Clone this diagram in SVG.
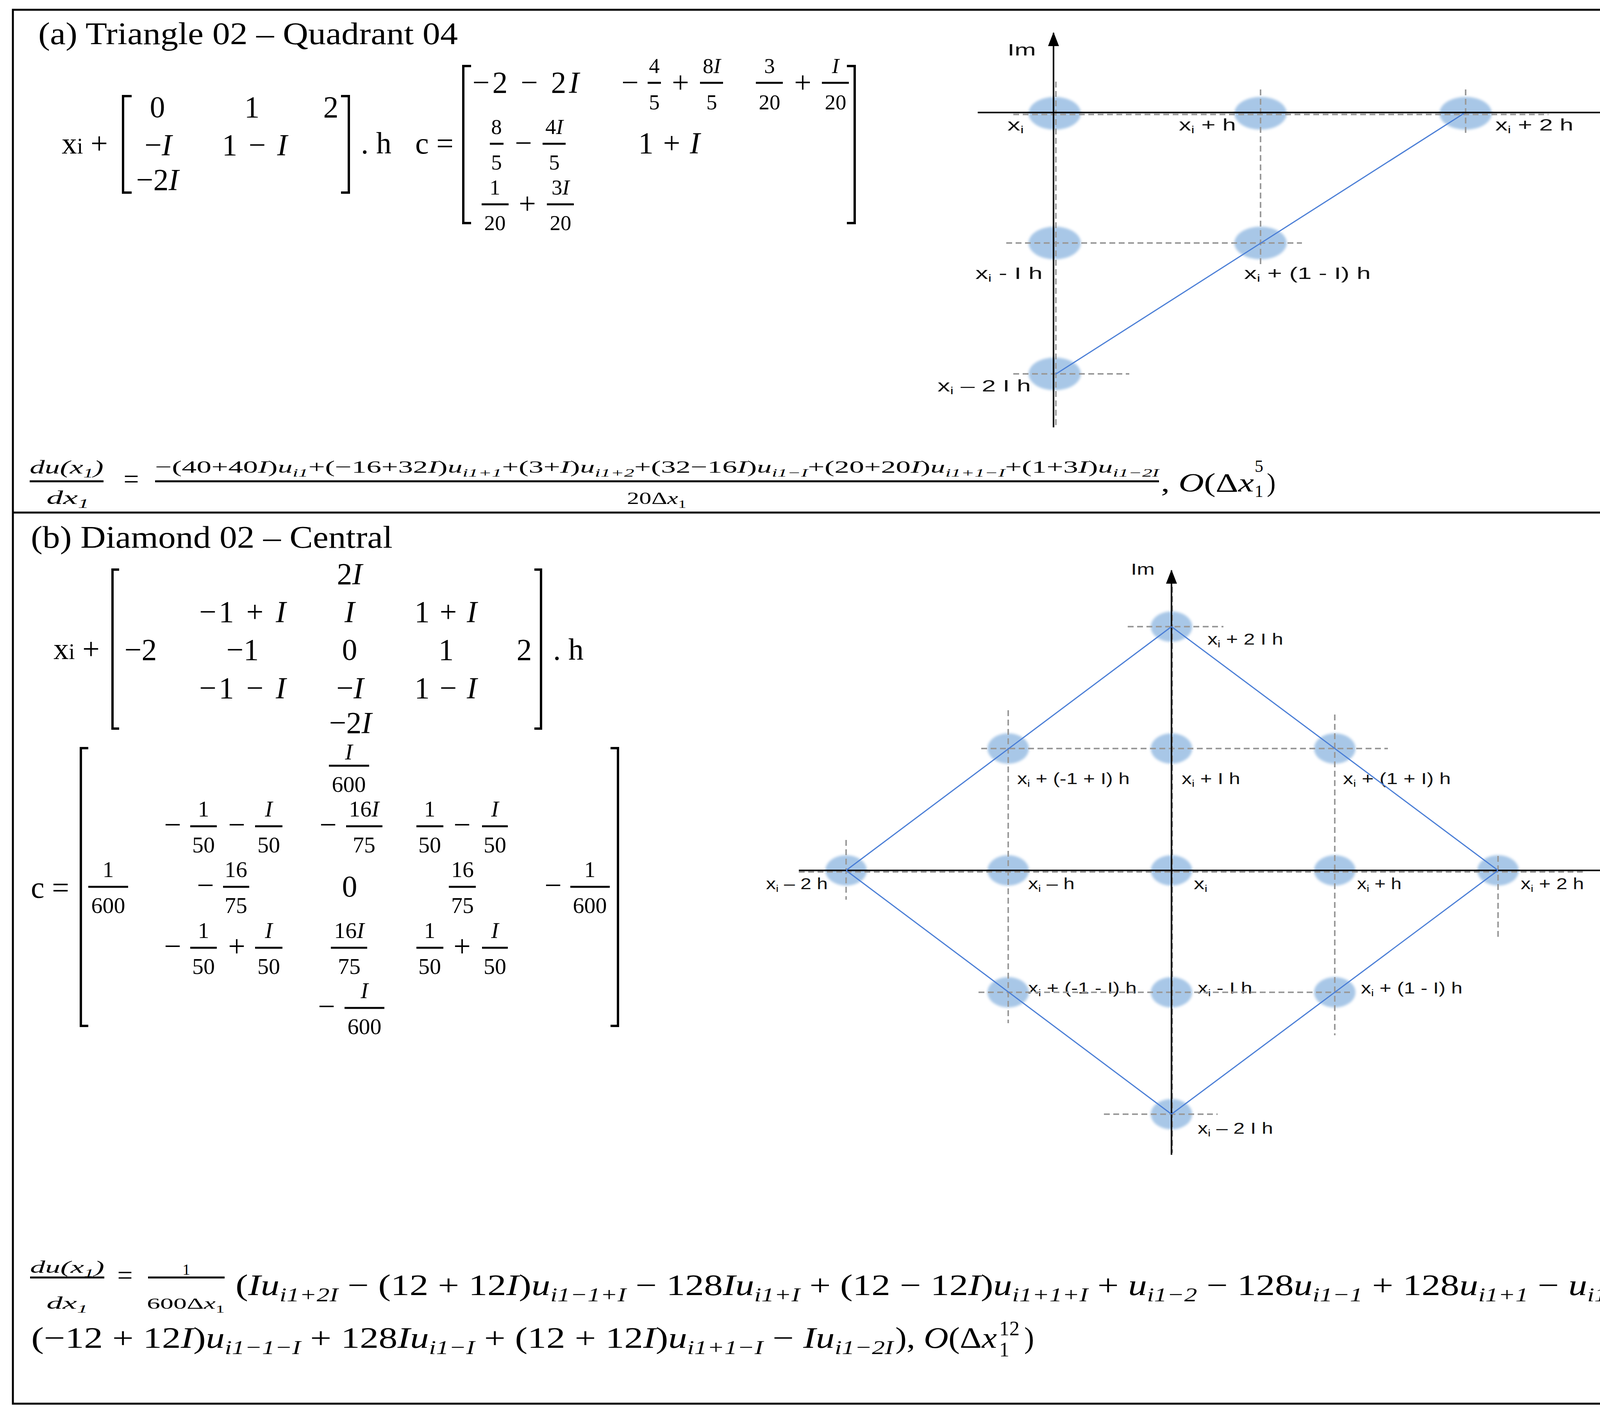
<svg xmlns="http://www.w3.org/2000/svg" width="4377" height="3622" viewBox="0 0 4377 3622">
<defs>
<style>
.t{font-family:"Liberation Serif","Times New Roman",serif;fill:#000}
.m{font-size:78px}
.c{text-anchor:middle}
.fa{font-size:55px}
.fb{font-size:58px}
.it{font-style:italic}
.s{font-size:68%}
.bar{stroke:#000;stroke-width:5}
.br{fill:none;stroke:#000;stroke-width:6}
.bd{fill:none;stroke:#000;stroke-width:5}
.lab{font-family:"Liberation Sans",Arial,sans-serif;fill:#111}
.la{font-size:42px}
.lb{font-size:40px}
.si{font-size:62%}
.dash{fill:none;stroke:#9a9a9a;stroke-width:4;stroke-dasharray:15 9}
.ax{fill:none;stroke:#000;stroke-width:4}
.edge{fill:none;stroke:#4a7ed6;stroke-width:3}
.node{fill:#a8c7e7;filter:url(#soft)}
</style>
<filter id="soft" x="-30%" y="-30%" width="160%" height="160%"><feGaussianBlur stdDeviation="3"/></filter>
<marker id="arr" viewBox="0 0 36 28" markerWidth="36" markerHeight="28" refX="34" refY="14" orient="auto" markerUnits="userSpaceOnUse"><path d="M0,0 L36,14 L0,28 Z" fill="#000"/></marker>
</defs>
<rect x="0" y="0" width="4377" height="3622" fill="#fff"/>
<g id="frame">
<rect class="bd" x="33" y="25" width="4308" height="3568"/>
<line class="bd" x1="33" y1="1312" x2="4341" y2="1312"/>
</g>

<!-- ===== Panel (a) ===== -->
<g id="panel-a-math" class="t">
<text class="t" x="98" y="113" font-size="80" textLength="1074" lengthAdjust="spacingAndGlyphs">(a) Triangle 02 – Quadrant 04</text>
<text class="t m" x="158" y="393">x<tspan font-size="56">i</tspan> +</text>
<path class="br" d="M337,246 H315 V493 H337"/>
<path class="br" d="M873,246 H893 V493 H873"/>
<text class="t m c" x="403" y="300">0</text>
<text class="t m c" x="645" y="300">1</text>
<text class="t m c" x="847" y="300">2</text>
<text class="t m c" x="405" y="397">−<tspan class="it">I</tspan></text>
<text class="t m c" x="652" y="397" textLength="167" lengthAdjust="spacing">1 − <tspan class="it">I</tspan></text>
<text class="t m c" x="403" y="486">−2<tspan class="it">I</tspan></text>
<text class="t m" x="924" y="393">. h</text>
<text class="t m" x="1063" y="393">c =</text>
<path class="br" d="M1206,169 H1186 V571 H1206"/>
<path class="br" d="M2168,169 H2188 V571 H2168"/>
<text class="t m c" x="1346" y="237" textLength="273" lengthAdjust="spacing">−2 − 2<tspan class="it">I</tspan></text>
<text class="t m c" x="1613" y="237">−</text>
<text class="t fa c" x="1675" y="187">4</text><line class="bar" x1="1658" y1="212" x2="1692" y2="212"/><text class="t fa c" x="1675" y="280">5</text>
<text class="t m c" x="1742" y="237">+</text>
<text class="t fa c" x="1822" y="187">8<tspan class="it">I</tspan></text><line class="bar" x1="1792" y1="212" x2="1851" y2="212"/><text class="t fa c" x="1822" y="280">5</text>
<text class="t fa c" x="1970" y="187">3</text><line class="bar" x1="1935" y1="212" x2="2004" y2="212"/><text class="t fa c" x="1970" y="280">20</text>
<text class="t m c" x="2055" y="237">+</text>
<text class="t fa c" x="2139" y="187"><tspan class="it">I</tspan></text><line class="bar" x1="2104" y1="212" x2="2173" y2="212"/><text class="t fa c" x="2139" y="280">20</text>
<text class="t fa c" x="1271" y="343">8</text><line class="bar" x1="1254" y1="368" x2="1289" y2="368"/><text class="t fa c" x="1271" y="434">5</text>
<text class="t m c" x="1340" y="392">−</text>
<text class="t fa c" x="1419" y="343">4<tspan class="it">I</tspan></text><line class="bar" x1="1389" y1="368" x2="1448" y2="368"/><text class="t fa c" x="1419" y="434">5</text>
<text class="t m c" x="1713" y="392" textLength="158" lengthAdjust="spacing">1 + <tspan class="it">I</tspan></text>
<text class="t fa c" x="1267" y="498">1</text><line class="bar" x1="1233" y1="523" x2="1302" y2="523"/><text class="t fa c" x="1267" y="589">20</text>
<text class="t m c" x="1350" y="547">+</text>
<text class="t fa c" x="1435" y="498">3<tspan class="it">I</tspan></text><line class="bar" x1="1400" y1="523" x2="1469" y2="523"/><text class="t fa c" x="1435" y="589">20</text>
<!-- equation (a) -->
<text class="t it" x="76" y="1212" font-size="48" textLength="189" lengthAdjust="spacingAndGlyphs">du(x<tspan class="s" dy="10">1</tspan><tspan dy="-10">)</tspan></text>
<line class="bar" x1="76" y1="1232" x2="265" y2="1232"/>
<text class="t it" x="119" y="1290" font-size="48" textLength="109" lengthAdjust="spacingAndGlyphs">dx<tspan class="s" dy="10">1</tspan></text>
<text class="t c" x="336" y="1250" font-size="70">=</text>
<text class="t" x="397" y="1210" font-size="44" textLength="2570" lengthAdjust="spacingAndGlyphs">−(40+40<tspan class="it">I</tspan>)<tspan class="it">u</tspan><tspan class="s it" dy="10">i1</tspan><tspan dy="-10">+(−16+32</tspan><tspan class="it">I</tspan>)<tspan class="it">u</tspan><tspan class="s it" dy="10">i1+1</tspan><tspan dy="-10">+(3+</tspan><tspan class="it">I</tspan>)<tspan class="it">u</tspan><tspan class="s it" dy="10">i1+2</tspan><tspan dy="-10">+(32−16</tspan><tspan class="it">I</tspan>)<tspan class="it">u</tspan><tspan class="s it" dy="10">i1−I</tspan><tspan dy="-10">+(20+20</tspan><tspan class="it">I</tspan>)<tspan class="it">u</tspan><tspan class="s it" dy="10">i1+1−I</tspan><tspan dy="-10">+(1+3</tspan><tspan class="it">I</tspan>)<tspan class="it">u</tspan><tspan class="s it" dy="10">i1−2I</tspan></text>
<line class="bar" x1="397" y1="1232" x2="2967" y2="1232"/>
<text class="t" x="1605" y="1290" font-size="44" textLength="152" lengthAdjust="spacingAndGlyphs">20Δ<tspan class="it">x</tspan><tspan class="s" dy="10">1</tspan></text>
<text class="t" x="2972" y="1258" font-size="68" textLength="238" lengthAdjust="spacingAndGlyphs">, <tspan class="it">O</tspan>(Δ<tspan class="it">x</tspan></text>
<text class="t" x="3212" y="1208" font-size="44">5</text>
<text class="t" x="3212" y="1272" font-size="44">1</text>
<text class="t" x="3243" y="1258" font-size="68">)</text>
</g>

<g id="diagram-a">
<g id="a-node-xi"><ellipse class="node" cx="2700" cy="290" rx="67" ry="42"/><text class="lab la" x="2579" y="334" textLength="42" lengthAdjust="spacingAndGlyphs">x<tspan class="si" dy="7">i</tspan></text></g>
<g id="a-node-xi-h"><ellipse class="node" cx="3227" cy="290" rx="67" ry="42"/><text class="lab la" x="3018" y="334" textLength="146" lengthAdjust="spacingAndGlyphs">x<tspan class="si" dy="7">i</tspan><tspan dy="-7"> + h</tspan></text></g>
<g id="a-node-xi-2h"><ellipse class="node" cx="3752" cy="290" rx="67" ry="42"/><text class="lab la" x="3828" y="334" textLength="200" lengthAdjust="spacingAndGlyphs">x<tspan class="si" dy="7">i</tspan><tspan dy="-7"> + 2 h</tspan></text></g>
<g id="a-node-xi-Ih"><ellipse class="node" cx="2700" cy="622" rx="67" ry="42"/><text class="lab la" x="2497" y="714" textLength="172" lengthAdjust="spacingAndGlyphs">x<tspan class="si" dy="7">i</tspan><tspan dy="-7"> - I h</tspan></text></g>
<g id="a-node-xi-1-Ih"><ellipse class="node" cx="3227" cy="622" rx="67" ry="42"/><text class="lab la" x="3185" y="714" textLength="324" lengthAdjust="spacingAndGlyphs">x<tspan class="si" dy="7">i</tspan><tspan dy="-7"> + (1 - I) h</tspan></text></g>
<g id="a-node-xi-2Ih"><ellipse class="node" cx="2700" cy="957" rx="67" ry="42"/><text class="lab la" x="2400" y="1002" textLength="239" lengthAdjust="spacingAndGlyphs">x<tspan class="si" dy="7">i</tspan><tspan dy="-7"> – 2 I h</tspan></text></g>
<g id="a-grid">
<line class="dash" x1="2594" y1="293" x2="3964" y2="293"/>
<line class="dash" x1="2576" y1="622" x2="3333" y2="622"/>
<line class="dash" x1="2594" y1="957" x2="2891" y2="957"/>
<line class="dash" x1="2703" y1="209" x2="2703" y2="1091"/>
<line class="dash" x1="3227" y1="229" x2="3227" y2="685"/>
<line class="dash" x1="3752" y1="229" x2="3752" y2="344"/>
</g>
<g id="a-axes">
<line class="ax" x1="2697" y1="1094" x2="2697" y2="84" marker-end="url(#arr)"/>
<line class="ax" x1="2503" y1="288" x2="4164" y2="288" marker-end="url(#arr)"/>
<text class="lab la" x="2579" y="142" textLength="73" lengthAdjust="spacingAndGlyphs">Im</text>
<text class="lab la" x="4145" y="334" textLength="73" lengthAdjust="spacingAndGlyphs">Re</text>
</g>
<g id="a-connectors">
<line class="edge" x1="2702" y1="958" x2="3748" y2="290"/>
</g>
</g>

<!-- ===== Panel (b) ===== -->
<g id="panel-b-math" class="t">
<text class="t" x="79" y="1402" font-size="80" textLength="926" lengthAdjust="spacingAndGlyphs">(b) Diamond 02 – Central</text>
<text class="t m" x="137" y="1687">x<tspan font-size="56">i</tspan> +</text>
<path class="br" d="M305,1458 H288 V1865 H305"/>
<path class="br" d="M1368,1458 H1385 V1865 H1368"/>
<text class="t m c" x="895" y="1495">2<tspan class="it">I</tspan></text>
<text class="t m c" x="621" y="1592" textLength="222" lengthAdjust="spacing">−1 + <tspan class="it">I</tspan></text>
<text class="t m c" x="895" y="1592"><tspan class="it">I</tspan></text>
<text class="t m c" x="1141" y="1592" textLength="160" lengthAdjust="spacing">1 + <tspan class="it">I</tspan></text>
<text class="t m c" x="360" y="1689">−2</text>
<text class="t m c" x="621" y="1689">−1</text>
<text class="t m c" x="895" y="1689">0</text>
<text class="t m c" x="1142" y="1689">1</text>
<text class="t m c" x="1342" y="1689">2</text>
<text class="t m c" x="621" y="1787" textLength="222" lengthAdjust="spacing">−1 − <tspan class="it">I</tspan></text>
<text class="t m c" x="896" y="1787">−<tspan class="it">I</tspan></text>
<text class="t m c" x="1141" y="1787" textLength="160" lengthAdjust="spacing">1 − <tspan class="it">I</tspan></text>
<text class="t m c" x="897" y="1876">−2<tspan class="it">I</tspan></text>
<text class="t m" x="1416" y="1689">. h</text>

<text class="t m" x="79" y="2298">c =</text>
<path class="br" d="M226,1915 H207 V2626 H226"/>
<path class="br" d="M1563,1915 H1582 V2626 H1563"/>
<!-- row 1 -->
<text class="t fb c" x="893" y="1944"><tspan class="it">I</tspan></text><line class="bar" x1="842" y1="1960" x2="945" y2="1960"/><text class="t fb c" x="893" y="2027">600</text>
<!-- row 2 -->
<text class="t m c" x="442" y="2137">−</text>
<text class="t fb c" x="521" y="2090">1</text><line class="bar" x1="487" y1="2115" x2="555" y2="2115"/><text class="t fb c" x="521" y="2182">50</text>
<text class="t m c" x="606" y="2137">−</text>
<text class="t fb c" x="688" y="2090"><tspan class="it">I</tspan></text><line class="bar" x1="653" y1="2115" x2="723" y2="2115"/><text class="t fb c" x="688" y="2182">50</text>
<text class="t m c" x="840" y="2137">−</text>
<text class="t fb c" x="932" y="2090">16<tspan class="it">I</tspan></text><line class="bar" x1="886" y1="2115" x2="979" y2="2115"/><text class="t fb c" x="932" y="2182">75</text>
<text class="t fb c" x="1100" y="2090">1</text><line class="bar" x1="1066" y1="2115" x2="1135" y2="2115"/><text class="t fb c" x="1100" y="2182">50</text>
<text class="t m c" x="1183" y="2137">−</text>
<text class="t fb c" x="1267" y="2090"><tspan class="it">I</tspan></text><line class="bar" x1="1234" y1="2115" x2="1300" y2="2115"/><text class="t fb c" x="1267" y="2182">50</text>
<!-- row 3 -->
<text class="t fb c" x="277" y="2245">1</text><line class="bar" x1="226" y1="2270" x2="328" y2="2270"/><text class="t fb c" x="277" y="2337">600</text>
<text class="t m c" x="526" y="2292">−</text>
<text class="t fb c" x="604" y="2245">16</text><line class="bar" x1="571" y1="2270" x2="638" y2="2270"/><text class="t fb c" x="604" y="2337">75</text>
<text class="t m c" x="895" y="2295">0</text>
<text class="t fb c" x="1184" y="2245">16</text><line class="bar" x1="1149" y1="2270" x2="1218" y2="2270"/><text class="t fb c" x="1184" y="2337">75</text>
<text class="t m c" x="1416" y="2292">−</text>
<text class="t fb c" x="1510" y="2245">1</text><line class="bar" x1="1460" y1="2270" x2="1561" y2="2270"/><text class="t fb c" x="1510" y="2337">600</text>
<!-- row 4 -->
<text class="t m c" x="442" y="2448">−</text>
<text class="t fb c" x="521" y="2401">1</text><line class="bar" x1="487" y1="2426" x2="555" y2="2426"/><text class="t fb c" x="521" y="2493">50</text>
<text class="t m c" x="606" y="2448">+</text>
<text class="t fb c" x="688" y="2401"><tspan class="it">I</tspan></text><line class="bar" x1="653" y1="2426" x2="723" y2="2426"/><text class="t fb c" x="688" y="2493">50</text>
<text class="t fb c" x="894" y="2401">16<tspan class="it">I</tspan></text><line class="bar" x1="847" y1="2426" x2="940" y2="2426"/><text class="t fb c" x="894" y="2493">75</text>
<text class="t fb c" x="1100" y="2401">1</text><line class="bar" x1="1066" y1="2426" x2="1135" y2="2426"/><text class="t fb c" x="1100" y="2493">50</text>
<text class="t m c" x="1183" y="2448">+</text>
<text class="t fb c" x="1267" y="2401"><tspan class="it">I</tspan></text><line class="bar" x1="1234" y1="2426" x2="1300" y2="2426"/><text class="t fb c" x="1267" y="2493">50</text>
<!-- row 5 -->
<text class="t m c" x="836" y="2602">−</text>
<text class="t fb c" x="933" y="2555"><tspan class="it">I</tspan></text><line class="bar" x1="882" y1="2580" x2="984" y2="2580"/><text class="t fb c" x="933" y="2647">600</text>

<!-- equation (b) -->
<text class="t it" x="77" y="3258" font-size="44" textLength="190" lengthAdjust="spacingAndGlyphs">du(x<tspan class="s" dy="10">1</tspan><tspan dy="-10">)</tspan></text>
<line class="bar" x1="77" y1="3270" x2="267" y2="3270"/>
<text class="t it" x="119" y="3350" font-size="44" textLength="106" lengthAdjust="spacingAndGlyphs">dx<tspan class="s" dy="10">1</tspan></text>
<text class="t c" x="320" y="3288" font-size="70">=</text>
<text class="t c" x="477" y="3263" font-size="40">1</text>
<line class="bar" x1="379" y1="3270" x2="575" y2="3270"/>
<text class="t" x="376" y="3350" font-size="40" textLength="199" lengthAdjust="spacingAndGlyphs">600Δ<tspan class="it">x</tspan><tspan class="s" dy="10">1</tspan></text>
<text class="t" x="603" y="3315" font-size="76" textLength="3667" lengthAdjust="spacingAndGlyphs">(<tspan class="it">Iu</tspan><tspan class="s it" dy="16">i1+2I</tspan><tspan dy="-16"> − (12 + 12</tspan><tspan class="it">I</tspan>)<tspan class="it">u</tspan><tspan class="s it" dy="16">i1−1+I</tspan><tspan dy="-16"> − 128</tspan><tspan class="it">Iu</tspan><tspan class="s it" dy="16">i1+I</tspan><tspan dy="-16"> + (12 − 12</tspan><tspan class="it">I</tspan>)<tspan class="it">u</tspan><tspan class="s it" dy="16">i1+1+I</tspan><tspan dy="-16"> + </tspan><tspan class="it">u</tspan><tspan class="s it" dy="16">i1−2</tspan><tspan dy="-16"> − 128</tspan><tspan class="it">u</tspan><tspan class="s it" dy="16">i1−1</tspan><tspan dy="-16"> + 128</tspan><tspan class="it">u</tspan><tspan class="s it" dy="16">i1+1</tspan><tspan dy="-16"> − </tspan><tspan class="it">u</tspan><tspan class="s it" dy="16">i1+2</tspan><tspan dy="-16"> +</tspan></text>
<text class="t" x="80" y="3450" font-size="76" textLength="2207" lengthAdjust="spacingAndGlyphs">(−12 + 12<tspan class="it">I</tspan>)<tspan class="it">u</tspan><tspan class="s it" dy="16">i1−1−I</tspan><tspan dy="-16"> + 128</tspan><tspan class="it">Iu</tspan><tspan class="s it" dy="16">i1−I</tspan><tspan dy="-16"> + (12 + 12</tspan><tspan class="it">I</tspan>)<tspan class="it">u</tspan><tspan class="s it" dy="16">i1+1−I</tspan><tspan dy="-16"> − </tspan><tspan class="it">Iu</tspan><tspan class="s it" dy="16">i1−2I</tspan></text>
<text class="t" x="2292" y="3450" font-size="76" textLength="260" lengthAdjust="spacingAndGlyphs">), <tspan class="it">O</tspan>(Δ<tspan class="it">x</tspan></text>
<text class="t" x="2558" y="3418" font-size="52">12</text>
<text class="t" x="2558" y="3472" font-size="52">1</text>
<text class="t" x="2622" y="3450" font-size="76">)</text>
</g>

<g id="diagram-b">
<g id="b-node-xi-2Ih-up"><ellipse class="node" cx="2999" cy="1604" rx="53" ry="39"/><text class="lab lb" x="3091" y="1650" textLength="194" lengthAdjust="spacingAndGlyphs">x<tspan class="si" dy="7">i</tspan><tspan dy="-7"> + 2 I h</tspan></text></g>
<g id="b-node-xi-m1pI"><ellipse class="node" cx="2581" cy="1916" rx="53" ry="39"/><text class="lab lb" x="2604" y="2007" textLength="288" lengthAdjust="spacingAndGlyphs">x<tspan class="si" dy="7">i</tspan><tspan dy="-7"> + (-1 + I) h</tspan></text></g>
<g id="b-node-xi-Ih"><ellipse class="node" cx="2999" cy="1916" rx="53" ry="39"/><text class="lab lb" x="3025" y="2007" textLength="150" lengthAdjust="spacingAndGlyphs">x<tspan class="si" dy="7">i</tspan><tspan dy="-7"> + I h</tspan></text></g>
<g id="b-node-xi-1pI"><ellipse class="node" cx="3417" cy="1916" rx="53" ry="39"/><text class="lab lb" x="3438" y="2007" textLength="276" lengthAdjust="spacingAndGlyphs">x<tspan class="si" dy="7">i</tspan><tspan dy="-7"> + (1 + I) h</tspan></text></g>
<g id="b-node-xi-m2h"><ellipse class="node" cx="2166" cy="2228" rx="53" ry="39"/><text class="lab lb" x="1961" y="2276" textLength="158" lengthAdjust="spacingAndGlyphs">x<tspan class="si" dy="7">i</tspan><tspan dy="-7"> – 2 h</tspan></text></g>
<g id="b-node-xi-mh"><ellipse class="node" cx="2581" cy="2228" rx="53" ry="39"/><text class="lab lb" x="2632" y="2276" textLength="119" lengthAdjust="spacingAndGlyphs">x<tspan class="si" dy="7">i</tspan><tspan dy="-7"> – h</tspan></text></g>
<g id="b-node-xi"><ellipse class="node" cx="2999" cy="2228" rx="53" ry="39"/><text class="lab lb" x="3056" y="2276" textLength="35" lengthAdjust="spacingAndGlyphs">x<tspan class="si" dy="7">i</tspan></text></g>
<g id="b-node-xi-h"><ellipse class="node" cx="3417" cy="2228" rx="53" ry="39"/><text class="lab lb" x="3474" y="2276" textLength="114" lengthAdjust="spacingAndGlyphs">x<tspan class="si" dy="7">i</tspan><tspan dy="-7"> + h</tspan></text></g>
<g id="b-node-xi-2h"><ellipse class="node" cx="3835" cy="2228" rx="53" ry="39"/><text class="lab lb" x="3893" y="2276" textLength="162" lengthAdjust="spacingAndGlyphs">x<tspan class="si" dy="7">i</tspan><tspan dy="-7"> + 2 h</tspan></text></g>
<g id="b-node-xi-m1mI"><ellipse class="node" cx="2581" cy="2540" rx="53" ry="39"/><text class="lab lb" x="2632" y="2543" textLength="278" lengthAdjust="spacingAndGlyphs">x<tspan class="si" dy="7">i</tspan><tspan dy="-7"> + (-1 - I) h</tspan></text></g>
<g id="b-node-xi-mIh"><ellipse class="node" cx="2999" cy="2540" rx="53" ry="39"/><text class="lab lb" x="3066" y="2543" textLength="140" lengthAdjust="spacingAndGlyphs">x<tspan class="si" dy="7">i</tspan><tspan dy="-7"> - I h</tspan></text></g>
<g id="b-node-xi-1mI"><ellipse class="node" cx="3417" cy="2540" rx="53" ry="39"/><text class="lab lb" x="3484" y="2543" textLength="260" lengthAdjust="spacingAndGlyphs">x<tspan class="si" dy="7">i</tspan><tspan dy="-7"> + (1 - I) h</tspan></text></g>
<g id="b-node-xi-2Ih-down"><ellipse class="node" cx="2999" cy="2852" rx="53" ry="39"/><text class="lab lb" x="3066" y="2902" textLength="193" lengthAdjust="spacingAndGlyphs">x<tspan class="si" dy="7">i</tspan><tspan dy="-7"> – 2 I h</tspan></text></g>
<g id="b-grid">
<line class="dash" x1="2887" y1="1604" x2="3132" y2="1604"/>
<line class="dash" x1="2512" y1="1916" x2="3553" y2="1916"/>
<line class="dash" x1="2045" y1="2232" x2="4058" y2="2232"/>
<line class="dash" x1="2505" y1="2540" x2="3461" y2="2540"/>
<line class="dash" x1="2826" y1="2852" x2="3117" y2="2852"/>
<line class="dash" x1="3001" y1="1502" x2="3001" y2="2951"/>
<line class="dash" x1="2581" y1="1818" x2="2581" y2="2619"/>
<line class="dash" x1="3417" y1="1829" x2="3417" y2="2650"/>
<line class="dash" x1="2166" y1="2150" x2="2166" y2="2303"/>
<line class="dash" x1="3835" y1="2191" x2="3835" y2="2405"/>
</g>
<g id="b-axes">
<line class="ax" x1="2999" y1="2956" x2="2999" y2="1460" marker-end="url(#arr)"/>
<line class="ax" x1="2045" y1="2228" x2="4150" y2="2228" marker-end="url(#arr)"/>
<text class="lab lb" x="2895" y="1471" textLength="61" lengthAdjust="spacingAndGlyphs">Im</text>
<text class="lab lb" x="4135" y="2276" textLength="58" lengthAdjust="spacingAndGlyphs">Re</text>
</g>
<g id="b-connectors">
<line class="edge" x1="2166" y1="2228" x2="2999" y2="1604"/>
<line class="edge" x1="2999" y1="1604" x2="3835" y2="2228"/>
<line class="edge" x1="3835" y1="2228" x2="2999" y2="2852"/>
<line class="edge" x1="2999" y1="2852" x2="2166" y2="2228"/>
</g>
</g>
</svg>
